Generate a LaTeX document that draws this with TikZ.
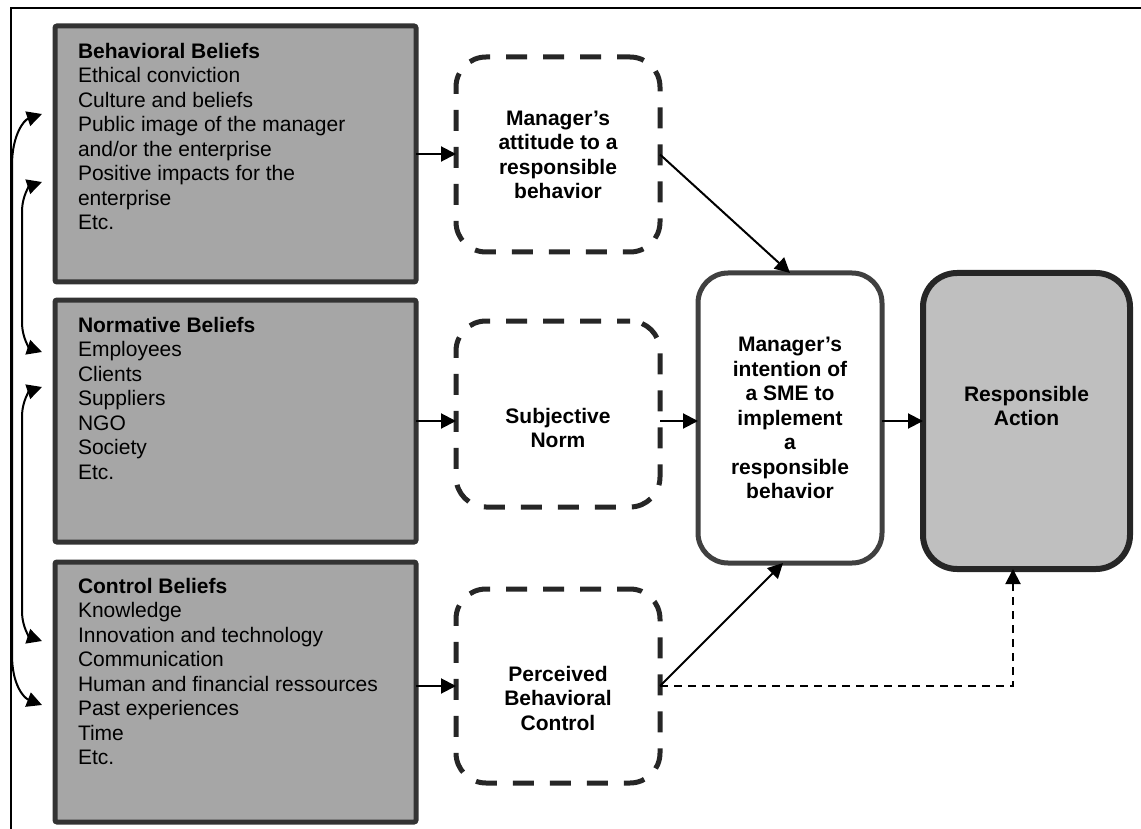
\documentclass[tikz,border=0pt]{standalone}
\usepackage{fontspec}
\setmainfont{Liberation Sans}
\usetikzlibrary{arrows.meta}
\definecolor{cboxfill}{HTML}{A6A6A6}
\definecolor{cboxdraw}{HTML}{333333}
\definecolor{cdash}{HTML}{262626}
\definecolor{cint}{HTML}{404040}
\definecolor{cactfill}{HTML}{BFBFBF}
\begin{document}
\begin{tikzpicture}[x=1pt,y=-1pt,
  every node/.style={inner sep=0pt, outer sep=0pt},
  beliefbox/.style={draw=cboxdraw, fill=cboxfill, line width=5pt, rounded corners=2pt, minimum width=361pt},
  belieftext/.style={anchor=north west, align=left, font=\fontsize{21}{24.5}\selectfont},
  dashbox/.style={draw=cdash, line width=5pt, dash pattern=on 21pt off 16pt, dash phase=8pt, rounded corners=30pt, minimum width=204pt},
  centertext/.style={align=center, font=\fontsize{21}{24.5}\selectfont\bfseries},
  arr/.style={line width=2pt, -{Triangle[length=15pt,width=15pt]}},
  dbl/.style={line width=2pt, {Triangle[length=15pt,width=15pt]}-{Triangle[length=15pt,width=15pt]}},
  dashedarr/.style={line width=2pt, dash pattern=on 8pt off 6pt, -{Triangle[length=15pt,width=15pt]}}
]
\useasboundingbox (0,0) rectangle (1141,829);
\begin{scope}
\clip (0,0) rectangle (1141,829);
\draw[line width=2pt] (11,829) -- (11,8) -- (1141,8);
\end{scope}

% belief boxes
\node[beliefbox, minimum height=256pt] (bb) at (235.5,154) {};
\node[beliefbox, minimum height=242pt] (nb) at (235.5,421) {};
\node[beliefbox, minimum height=260pt] (cb) at (235.5,692) {};

\node[belieftext] (bbt) at (78,43) {\textbf{Behavioral Beliefs}\\Ethical conviction\\Culture and beliefs\\Public image of the manager\\and/or the enterprise\\Positive impacts for the\\enterprise\\Etc.};
\node[belieftext] (nbt) at (78,317) {\textbf{Normative Beliefs}\\Employees\\Clients\\Suppliers\\NGO\\Society\\Etc.};
\node[belieftext] (cbt) at (78,578) {\textbf{Control Beliefs}\\Knowledge\\Innovation and technology\\Communication\\Human and financial ressources\\Past experiences\\Time\\Etc.};

% dashed boxes
\node[dashbox, minimum height=195pt] (att) at (558,154.5) {};
\node[dashbox, minimum height=186pt] (sn) at (558,414) {};
\node[dashbox, minimum height=194pt] (pbc) at (558,686) {};
\node[centertext] (attt) at (558,155) {Manager’s\\attitude to a\\responsible\\behavior};
\node[centertext] (snt) at (558,428) {Subjective\\Norm};
\node[centertext] (pbct) at (558,698) {Perceived\\Behavioral\\Control};

% intention and action
\node[draw=cint, fill=white, line width=5pt, rounded corners=30pt, minimum width=184pt, minimum height=290pt] (int) at (790,418) {};
\node[centertext] (intt) at (790,418) {Manager’s\\intention of\\a SME to\\implement\\a\\responsible\\behavior};
\node[draw=cdash, fill=cactfill, line width=6pt, rounded corners=34pt, minimum width=207pt, minimum height=296pt] (act) at (1026.5,421) {};
\node[centertext] (actt) at (1026.5,406) {Responsible\\Action};

% connectors
\draw[arr] (bb.east) -- (bb.east -| att.west);
\draw[arr] (nb.east) -- (nb.east -| sn.west);
\draw[arr] (cb.east |- pbc.west) -- (pbc.west);
\draw[arr] (sn.east |- nb.east) -- (int.west |- nb.east);
\draw[arr] (int.east |- nb.east) -- (act.west |- nb.east);
\draw[arr] (att.east) -- (int.north);
\draw[arr] (pbc.east) -- ([xshift=-7pt]int.south);
\draw[dashedarr] (pbc.east) -| ([xshift=-13.5pt]act.south);

% left curved double arrows
\coordinate (l1a) at (42,114);
\coordinate (l1b) at (42,705);
\coordinate (l2a) at (42,182);
\coordinate (l2b) at (42,352);
\coordinate (l3a) at (42,387);
\coordinate (l3b) at (42,641);
\draw[dbl] (l1a) .. controls (24,120) and (12,135) .. (12,165) -- (12,655) .. controls (12,685) and (24,698) .. (l1b);
\draw[dbl] (l2a) .. controls (30,186) and (22,195) .. (22,212) -- (22,322) .. controls (22,339) and (30,348) .. (l2b);
\draw[dbl] (l3a) .. controls (30,391) and (22,400) .. (22,417) -- (22,611) .. controls (22,628) and (30,637) .. (l3b);
\end{tikzpicture}
\end{document}
